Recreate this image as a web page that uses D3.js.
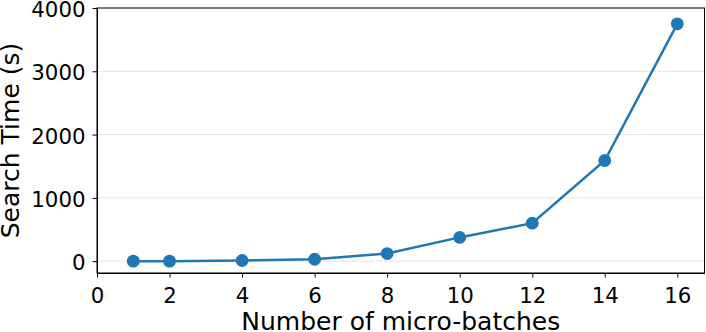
<!DOCTYPE html>
<html>
<head>
<meta charset="utf-8">
<script src="https://cdn.jsdelivr.net/npm/d3@7"></script>
<style>
  body { margin: 0; background: #fff; }
  svg { display: block; }
  .axis path, .axis line { stroke: #000; stroke-width: 1; }
  .grid line { stroke: #e5e5e5; stroke-width: 1; }
</style>
</head>
<body>
<svg id="chart" width="706" height="332"></svg>
<script>
// micro-batch counts and measured search times (seconds)
const microBatches = [1, 2, 4, 6, 8, 10, 12, 14, 16];
const searchTimes = [0, 0, 10, 30, 120, 375, 600, 1590, 3750];
const xTicks = [0, 2, 4, 6, 8, 10, 12, 14, 16];
const yTicks = [0, 1000, 2000, 3000, 4000];

const font = "DejaVu Sans, sans-serif";
const margin = { left: 97, right: 1.5, top: 8, bottom: 59 };
const svg = d3.select("#chart");
const width = 706 - margin.left - margin.right;
const height = 332 - margin.top - margin.bottom;

const data = microBatches.map((m, i) => ({ m: m, t: searchTimes[i] }));

const chart = svg.append("g")
    .attr("transform", "translate(" + margin.left + "," + margin.top + ")");

const xScale = d3.scaleLinear().domain([0, 16.75]).range([0, width]);
const yScale = d3.scaleLinear().domain([-187.5, 4000]).range([height, 0]);

// horizontal grid
chart.append("g")
    .attr("class", "grid")
    .selectAll("line")
    .data(yTicks)
    .join("line")
    .attr("x1", 0)
    .attr("x2", width)
    .attr("y1", d => yScale(d))
    .attr("y2", d => yScale(d));

const xAxis = chart.append("g")
    .attr("class", "axis")
    .attr("transform", "translate(0," + height + ")")
    .call(d3.axisBottom(xScale).tickValues(xTicks).tickFormat(d3.format("d"))
        .tickSize(4.5).tickPadding(10).tickSizeOuter(0));

const yAxis = chart.append("g")
    .attr("class", "axis")
    .call(d3.axisLeft(yScale).tickValues(yTicks).tickFormat(d3.format("d"))
        .tickSize(4.5).tickPadding(7).tickSizeOuter(0));

chart.selectAll(".axis")
    .attr("font-family", font)
    .attr("font-size", 21.3);
chart.selectAll(".axis text").attr("fill", "#000");
yAxis.selectAll("text").attr("dy", "0.4em");

// top and right spines
chart.append("rect")
    .attr("x", 0)
    .attr("y", 0)
    .attr("width", width)
    .attr("height", height)
    .attr("fill", "none")
    .attr("stroke", "#000")
    .attr("stroke-width", 1);

const line = d3.line()
    .x(d => xScale(d.m))
    .y(d => yScale(d.t));

chart.append("path")
    .datum(data)
    .attr("fill", "none")
    .attr("stroke", "#1f77b4")
    .attr("stroke-width", 2.5)
    .attr("d", line);

chart.selectAll("circle")
    .data(data)
    .join("circle")
    .attr("cx", d => xScale(d.m))
    .attr("cy", d => yScale(d.t))
    .attr("r", 6.4)
    .attr("fill", "#1f77b4");

svg.append("text")
    .attr("x", margin.left + width / 2)
    .attr("y", 330)
    .attr("text-anchor", "middle")
    .attr("font-family", font)
    .attr("font-size", 25)
    .text("Number of micro-batches");

svg.append("text")
    .attr("transform", "translate(18.5," + (margin.top + height / 2) + ") rotate(-90)")
    .attr("text-anchor", "middle")
    .attr("font-family", font)
    .attr("font-size", 25)
    .text("Search Time (s)");
</script>
</body>
</html>
